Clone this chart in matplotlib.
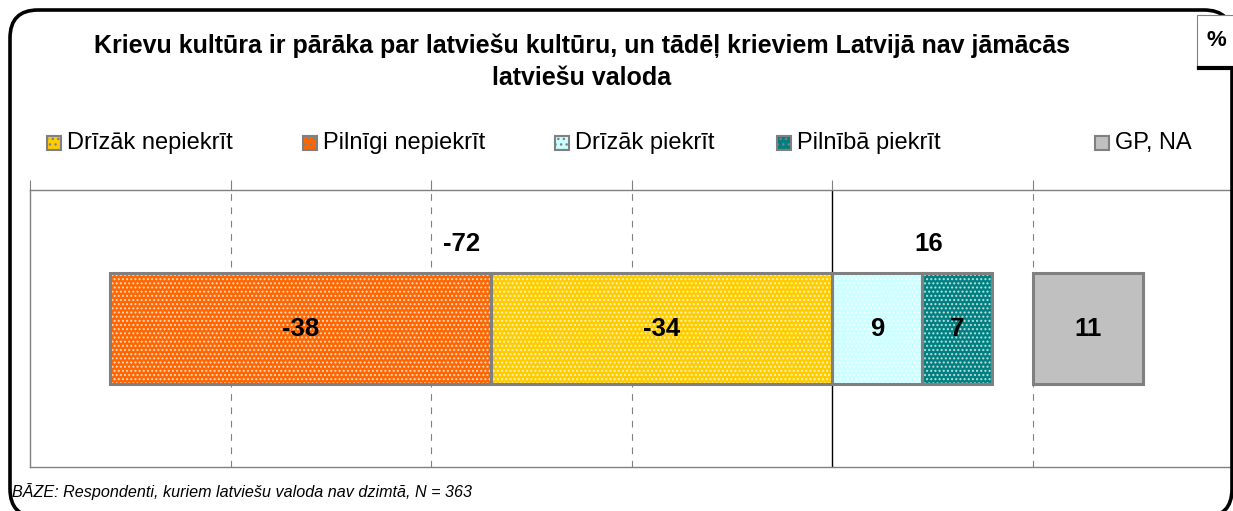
import matplotlib
matplotlib.use("Agg")
import matplotlib.pyplot as plt
from matplotlib.patches import FancyBboxPatch, Rectangle

plt.rcParams['font.family'] = ['Liberation Sans', 'DejaVu Sans']

# data
title = "Krievu kultūra ir pārāka par latviešu kultūru, un tādēļ krieviem Latvijā nav jāmācās\nlatviešu valoda"
categories = ["Drīzāk nepiekrīt", "Pilnīgi nepiekrīt", "Drīzāk piekrīt", "Pilnībā piekrīt", "GP, NA"]
values = [-34, -38, 9, 7, 11]
colors = ["#FFCC00", "#FF6600", "#CCFFFF", "#008080", "#C0C0C0"]
hatched = [True, True, True, True, False]
footnote = "BĀZE: Respondenti, kuriem latviešu valoda nav dzimtā, N = 363"

fig = plt.figure(figsize=(12.33, 5.11), dpi=100)
W, H = 1233, 511

# rounded frame in pixel units
frame = FancyBboxPatch((0.10, -0.06), 12.22, 5.07, boxstyle="round,pad=0,rounding_size=0.28",
                       transform=fig.dpi_scale_trans, fc="none", ec="black", lw=2.6, clip_on=False)
fig.patches.append(frame)

# "%" box
fig.patches.append(Rectangle((1197 / W, 1 - 68 / H), 40 / W, 53 / H, transform=fig.transFigure,
                             fc="white", ec="#808080", lw=0.8))
fig.add_artist(plt.Line2D([1199 / W, 1233 / W], [1 - 68 / H, 1 - 68 / H], transform=fig.transFigure,
                          color="black", lw=3))
fig.text(1216 / W, 1 - 40 / H, "%", ha="center", va="center", fontsize=16, fontweight="bold")

fig.text(582 / W, 1 - 62 / H, title, ha="center", va="center", fontsize=18, fontweight="bold",
         linespacing=1.4)

# legend drawn by hand to follow the original spacing
leg_x = [47, 303, 555, 777, 1095]
for x, lab, col, h in zip(leg_x, categories, colors, hatched):
    fig.patches.append(Rectangle((x / W, 1 - 150 / H), 14 / W, 14 / H, transform=fig.transFigure,
                                 fc=col, ec="#808080", lw=1.5, hatch="..." if h else None))
    fig.text((x + 20) / W, 1 - 143 / H, lab, ha="left", va="center", fontsize=17)

ax = fig.add_axes([30 / W, 1 - 467 / H, 1203 / W, 277 / H])
ax.set_xlim(-80, 40)
ax.set_ylim(-1, 1)

# stacked bars
neg = [(v, c, h) for v, c, h in zip(values[:4], colors[:4], hatched[:4]) if v < 0]
pos = [(v, c, h) for v, c, h in zip(values[:4], colors[:4], hatched[:4]) if v > 0]
segments = []
left = 0
for v, c, h in neg:
    segments.append((left + v, -v, v, c, h))
    left += v
left = 0
for v, c, h in pos:
    segments.append((left, v, v, c, h))
    left += v
na_start = 20
segments.append((na_start, values[4], values[4], colors[4], hatched[4]))

for start, width, v, c, h in segments:
    ax.barh(0, width, left=start, height=0.8, color=c, edgecolor="none", zorder=3)
    if h:
        ax.barh(0, width, left=start, height=0.8, color="none", edgecolor="white",
                hatch="....", lw=0, alpha=0.7, zorder=4)
    ax.barh(0, width, left=start, height=0.8, color="none", edgecolor="#808080", lw=2.2, zorder=5)
    ax.text(start + width / 2, 0, f"{v}", ha="center", va="center", fontsize=18.5,
            fontweight="bold", zorder=6)

neg_total = sum(v for v, _, _ in neg)
pos_total = sum(v for v, _, _ in pos)
ax.text(neg_total / 2 - 1, 0.61, f"{neg_total}", ha="center", va="center", fontsize=18.5, fontweight="bold")
ax.text(pos_total / 2 + 1.6, 0.61, f"{pos_total}", ha="center", va="center", fontsize=18.5, fontweight="bold")

# grid and axes
for gx in [-60, -40, -20, 20]:
    ax.axvline(gx, color="#808080", lw=0.8, ls=(0, (6, 6)), zorder=1)
ax.axvline(0, color="black", lw=1, zorder=2)
ax.set_xticks(range(-80, 41, 20))
ax.set_yticks([])
ax.xaxis.tick_top()
ax.tick_params(axis="x", direction="out", length=7, color="#808080", labeltop=False, labelbottom=False)
for s in ["top", "bottom", "left"]:
    ax.spines[s].set_color("#808080")
    ax.spines[s].set_linewidth(1)
ax.spines["right"].set_visible(False)

fig.text(12 / W, 1 - 492 / H, footnote, ha="left", va="center", fontsize=11.6, style="italic")

fig.savefig("out.png", dpi=100)
